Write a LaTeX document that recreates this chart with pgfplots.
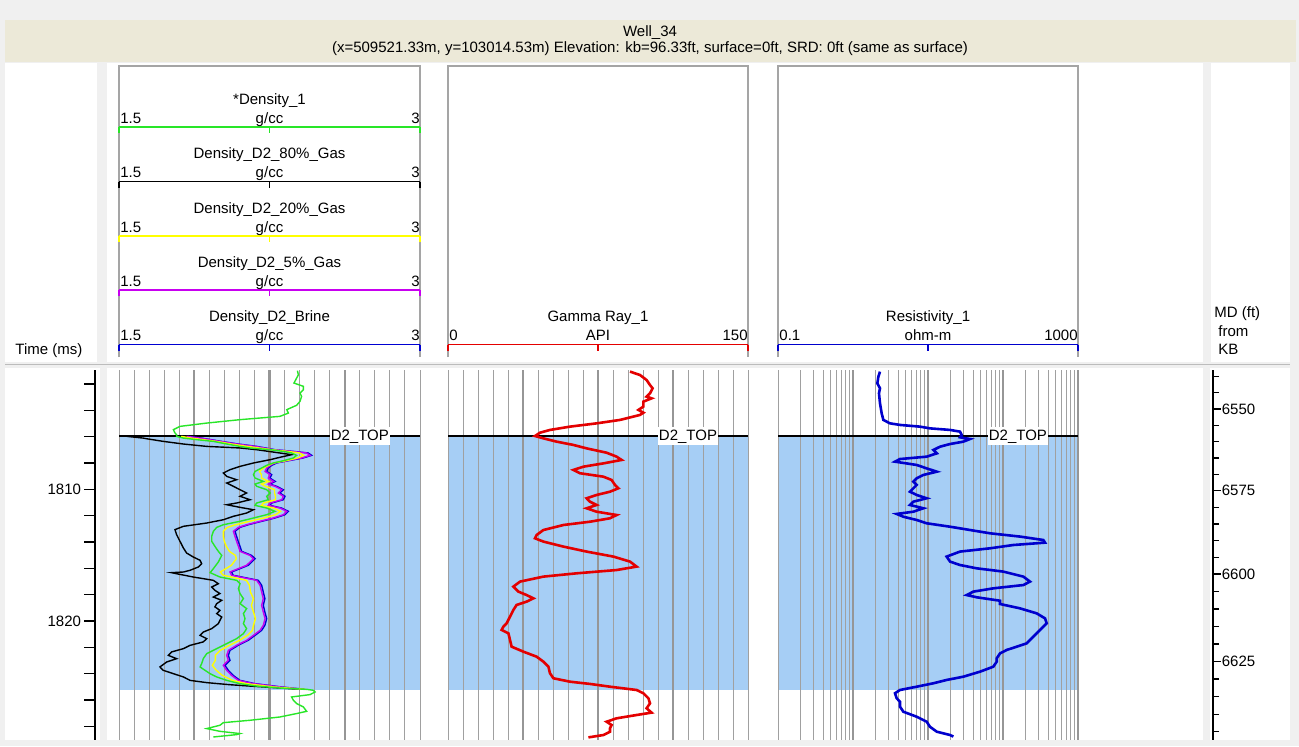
\documentclass[border=0pt]{standalone}
\usepackage{fontspec}
\setmainfont{Liberation Sans}
\usepackage{pgfplots}
\pgfplotsset{compat=1.18}

\definecolor{bgray}{RGB}{240,240,240}
\definecolor{beige}{RGB}{236,233,216}
\definecolor{zone}{RGB}{166,206,245}
\definecolor{gthin}{RGB}{160,160,160}
\definecolor{gthick}{RGB}{150,150,150}
\definecolor{boxc}{RGB}{165,165,165}
\definecolor{dgreen}{RGB}{40,230,40}
\definecolor{dyellow}{RGB}{255,255,0}
\definecolor{dmag}{RGB}{200,0,240}
\definecolor{dblue}{RGB}{0,0,210}
\definecolor{grred}{RGB}{228,0,0}
\definecolor{resblue}{RGB}{0,0,205}

\newcommand\fs{\fontsize{7.5pt}{9pt}\selectfont}

\pgfplotsset{
  trk/.style={scale only axis, height=185pt, anchor=north west, y dir=reverse,
    ymin=1800.94, ymax=1829.04},
  trkzone/.style={trk, hide axis},
  trkgrid/.style={trk, axis line style={draw=none}, ytick=\empty,
    xticklabels={}, major tick length=0pt, minor tick length=0pt,
    xmajorgrids=true, xminorgrids=true,
    major grid style={color=gthick, line width=1.2pt},
    minor grid style={color=gthin, line width=0.5pt}},
}

\newcommand\scalerow[8]{%
  \draw[#4, line width=0.6pt] (#1,#3) -- (#2,#3);
  \draw[#4, line width=0.6pt] (#1,#3) -- (#1,#3+6) ({(#1+#2)/2},#3) -- ({(#1+#2)/2},#3+6) (#2,#3) -- (#2,#3+6);
  \node at ({(#1+#2)/2},#3-27) {#5};
  \node[anchor=west] at (#1,#3-8) {#6};
  \node at ({(#1+#2)/2},#3-8) {#7};
  \node[anchor=east] at (#2+1,#3-8) {#8};
}

\begin{document}
\begin{tikzpicture}[font=\fs]
\begin{scope}[x=0.5pt, y=-0.5pt, every node/.style={inner sep=0.5pt, text height=5.5pt, text depth=1.5pt}]
  \fill[bgray] (0,0) rectangle (1299,746);
  \fill[beige] (5,20) rectangle (1296,62);
  % white panels
  \fill[white] (5,63) rectangle (97,362);
  \fill[white] (107,63) rectangle (1203,362);
  \fill[white] (1211,63) rectangle (1290,362);
  \fill[white] (5,368) rectangle (100,740);
  \fill[white] (107,368) rectangle (1203,740);
  \fill[white] (1210,368) rectangle (1290,740);
  \draw[gthin!70, line width=0.5pt] (5,364) -- (1290,364);
  % title
  \node at (650,32) {Well\_34};
  \node at (650,48) {(x=509521.33m, y=103014.53m) Elevation: kb=96.33ft, surface=0ft, SRD: 0ft (same as surface)};
  % header boxes
  \draw[boxc, line width=0.6pt] (119,357) -- (119,66) -- (420,66) -- (420,357);
  \draw[boxc, line width=0.6pt] (448,357) -- (448,66) -- (748,66) -- (748,357);
  \draw[boxc, line width=0.6pt] (778,357) -- (778,66) -- (1078,66) -- (1078,357);
  % scale rows
  \scalerow{119}{420}{127}{dgreen}{*Density\_1}{1.5}{g/cc}{3}
  \scalerow{119}{420}{181.5}{black}{Density\_D2\_80\%\_Gas}{1.5}{g/cc}{3}
  \scalerow{119}{420}{236}{dyellow}{Density\_D2\_20\%\_Gas}{1.5}{g/cc}{3}
  \scalerow{119}{420}{290}{dmag}{Density\_D2\_5\%\_Gas}{1.5}{g/cc}{3}
  \scalerow{119}{420}{344.5}{dblue}{Density\_D2\_Brine}{1.5}{g/cc}{3}
  \scalerow{448}{748}{344.5}{grred}{Gamma Ray\_1}{0}{API}{150}
  \scalerow{778}{1078}{344.5}{resblue}{Resistivity\_1}{0.1}{ohm-m}{1000}
  % column captions
  \node[anchor=west] at (14,350) {Time (ms)};
  \node[anchor=west] at (1213,313) {MD (ft)};
  \node[anchor=west] at (1217,332) {from};
  \node[anchor=west] at (1217,350) {KB};
\end{scope}

% ---------- time axis ----------
\begin{axis}[scale only axis, width=0.5pt, height=185pt, at={(47.5pt,-185pt)}, anchor=north west,
  y dir=reverse, ymin=1800.94, ymax=1829.04, xmin=0, xmax=1, hide x axis, axis y line*=left,
  y axis line style={black, line width=0.7pt},
  ytick={1810,1820}, yticklabels={1810,1820},
  minor ytick={1802,1804,1806,1808,1812,1814,1816,1818,1822,1824,1826,1828},
  tick align=outside, major tick length=5.3pt, minor tick length=5.3pt,
  tick style={black, line width=0.7pt},
  yticklabel style={font=\fs, inner sep=1.5pt}]
  \addplot[draw=none] coordinates {(0,1810)};
\end{axis}

% ---------- MD axis ----------
\begin{axis}[scale only axis, width=0.5pt, height=185pt, at={(606.5pt,-185pt)}, anchor=north east,
  y dir=reverse, ymin=1800.94, ymax=1829.04, xmin=0, xmax=1, hide x axis, axis y line*=right,
  y axis line style={black, line width=0.7pt},
  ytick={1803.90,1810.11,1816.43,1823.09}, yticklabels={6550,6575,6600,6625},
  minor ytick={1801.42,1802.67,1805.14,1806.39,1807.62,1808.87,1811.37,1812.63,1813.90,1815.16,1817.76,1819.10,1820.43,1821.76,1824.42,1825.75,1827.08,1828.41},
  tick align=outside, major tick length=3.9pt, minor tick length=3pt,
  tick style={black, line width=0.7pt},
  yticklabel style={font=\fs, inner sep=0.3pt, anchor=west}]
  \addplot[draw=none] coordinates {(0,1810)};
\end{axis}

% ---------- Track 1: density ----------
\begin{axis}[trkzone, width=150.5pt, at={(59.5pt,-185pt)}, xmin=1.5, xmax=3]
  \addplot[draw=none, fill=zone] coordinates {(1.5,1805.98) (3,1805.98) (3,1825.26) (1.5,1825.26)} -- cycle;
\end{axis}
\begin{axis}[trkgrid, width=150.5pt, at={(59.5pt,-185pt)}, xmin=1.5, xmax=3,
  xtick={1.875,2.25,2.625},
  minor xtick={1.5,1.575,1.65,1.725,1.8,1.95,2.025,2.1,2.175,2.325,2.4,2.475,2.55,2.7,2.775,2.85,2.925,3}]
  \addplot[black, line width=1pt] coordinates {(1.5,1805.98) (3,1805.98)};
  % Density_D2_80%_Gas
  \addplot[black, line width=0.7pt] coordinates {
  (1.540,1805.98)(1.621,1806.11)(1.638,1806.16)(1.721,1806.36)(1.821,1806.56)(1.937,1806.74)(2.103,1806.86)
  (2.186,1806.99)(2.269,1807.17)(2.360,1807.37)(2.302,1807.57)(2.253,1807.75)(2.170,1808.00)(2.103,1808.26)
  (2.053,1808.51)(2.020,1808.76)(2.037,1809.02)(2.086,1809.27)(2.037,1809.52)(2.070,1809.77)(2.103,1810.03)
  (2.136,1810.28)(2.103,1810.53)(2.153,1810.79)(2.086,1811.04)(2.037,1811.17)(2.103,1811.37)(2.170,1811.55)
  (2.136,1811.80)(2.070,1812.05)(2.020,1812.31)(1.937,1812.56)(1.821,1812.81)(1.779,1813.06)(1.787,1813.44)
  (1.804,1813.95)(1.821,1814.46)(1.837,1814.84)(1.870,1815.14)(1.904,1815.39)(1.912,1815.65)(1.895,1815.90)
  (1.854,1816.15)(1.821,1816.28)(1.762,1816.33)(1.787,1816.41)(1.870,1816.66)(1.970,1816.91)(1.995,1817.17)
  (1.962,1817.42)(1.978,1817.67)(2.003,1817.92)(1.970,1818.18)(2.012,1818.43)(1.987,1818.68)(1.978,1818.93)
  (2.003,1819.19)(1.987,1819.44)(2.012,1819.70)(2.003,1819.95)(1.995,1820.20)(1.962,1820.58)(1.920,1820.84)
  (1.904,1821.09)(1.937,1821.34)(1.920,1821.59)(1.854,1821.85)(1.821,1822.10)(1.762,1822.35)(1.746,1822.61)
  (1.787,1822.86)(1.738,1823.11)(1.704,1823.49)(1.721,1823.75)(1.771,1824.00)(1.821,1824.25)(1.854,1824.51)
  (1.937,1824.68)(2.053,1824.84)(2.170,1824.96)(2.302,1825.09)(2.402,1825.19)};
  % Density_D2_Brine
  \addplot[dblue, line width=0.7pt] coordinates {
  (1.845,1805.98)(1.912,1806.11)(2.011,1806.36)(2.094,1806.56)(2.186,1806.74)(2.277,1806.99)(2.368,1807.12)
  (2.443,1807.24)(2.460,1807.42)(2.418,1807.62)(2.344,1807.83)(2.285,1808.00)(2.261,1808.18)(2.244,1808.38)
  (2.236,1808.64)(2.261,1808.89)(2.252,1809.14)(2.278,1809.40)(2.252,1809.60)(2.285,1809.77)(2.319,1810.03)
  (2.302,1810.28)(2.327,1810.53)(2.319,1810.79)(2.261,1811.04)(2.252,1811.22)(2.310,1811.42)(2.344,1811.67)
  (2.327,1811.93)(2.277,1812.18)(2.211,1812.43)(2.144,1812.69)(2.103,1812.89)(2.078,1813.19)(2.086,1813.57)
  (2.094,1813.95)(2.103,1814.33)(2.111,1814.71)(2.161,1815.02)(2.178,1815.27)(2.144,1815.77)(2.061,1816.28)
  (2.069,1816.53)(2.194,1816.91)(2.211,1817.29)(2.219,1817.80)(2.227,1818.30)(2.219,1818.81)(2.227,1819.32)
  (2.236,1819.82)(2.227,1820.33)(2.211,1820.71)(2.178,1821.09)(2.144,1821.47)(2.094,1821.85)(2.053,1822.23)
  (2.045,1822.61)(2.053,1822.99)(2.028,1823.37)(2.045,1823.75)(2.069,1824.13)(2.103,1824.51)(2.178,1824.76)
  (2.310,1825.01)(2.427,1825.19)};
  % Density_D2_5%_Gas
  \addplot[dmag, line width=0.7pt] coordinates {
  (1.837,1805.98)(1.904,1806.11)(2.003,1806.36)(2.086,1806.56)(2.178,1806.74)(2.269,1806.99)(2.360,1807.12)
  (2.435,1807.24)(2.452,1807.42)(2.410,1807.62)(2.336,1807.83)(2.277,1808.00)(2.253,1808.18)(2.236,1808.38)
  (2.228,1808.64)(2.253,1808.89)(2.244,1809.14)(2.270,1809.40)(2.244,1809.60)(2.277,1809.77)(2.311,1810.03)
  (2.294,1810.28)(2.319,1810.53)(2.311,1810.79)(2.253,1811.04)(2.244,1811.22)(2.302,1811.42)(2.336,1811.67)
  (2.319,1811.93)(2.269,1812.18)(2.203,1812.43)(2.136,1812.69)(2.095,1812.89)(2.070,1813.19)(2.078,1813.57)
  (2.086,1813.95)(2.095,1814.33)(2.103,1814.71)(2.153,1815.02)(2.170,1815.27)(2.136,1815.77)(2.053,1816.28)
  (2.061,1816.53)(2.186,1816.91)(2.203,1817.29)(2.211,1817.80)(2.219,1818.30)(2.211,1818.81)(2.219,1819.32)
  (2.228,1819.82)(2.219,1820.33)(2.203,1820.71)(2.170,1821.09)(2.136,1821.47)(2.086,1821.85)(2.045,1822.23)
  (2.037,1822.61)(2.045,1822.99)(2.020,1823.37)(2.037,1823.75)(2.061,1824.13)(2.095,1824.51)(2.170,1824.76)
  (2.302,1825.01)(2.419,1825.19)};
  % Density_D2_20%_Gas
  \addplot[dyellow, line width=0.7pt] coordinates {
  (1.81,1805.98)(1.86,1806.11)(1.985,1806.36)(2.06,1806.56)(2.14,1806.74)(2.26,1806.99)(2.34,1807.12)
  (2.40,1807.24)(2.42,1807.42)(2.39,1807.62)(2.33,1807.83)(2.27,1808.00)(2.245,1808.18)(2.22,1808.38)
  (2.20,1808.64)(2.21,1808.89)(2.21,1809.14)(2.245,1809.40)(2.21,1809.60)(2.23,1809.77)(2.275,1810.03)
  (2.275,1810.28)(2.28,1810.53)(2.28,1810.79)(2.22,1811.04)(2.21,1811.22)(2.27,1811.42)(2.305,1811.67)
  (2.28,1811.93)(2.22,1812.18)(2.15,1812.43)(2.08,1812.69)(2.04,1812.89)(2.02,1813.19)(2.02,1813.57)
  (2.025,1813.95)(2.035,1814.33)(2.05,1814.71)(2.08,1815.02)(2.085,1815.27)(2.06,1815.77)(2.005,1816.28)
  (2.02,1816.53)(2.135,1816.91)(2.15,1817.29)(2.155,1817.80)(2.17,1818.30)(2.16,1818.81)(2.17,1819.32)
  (2.18,1819.82)(2.17,1820.33)(2.165,1820.71)(2.14,1821.09)(2.10,1821.47)(2.05,1821.85)(2.005,1822.23)
  (1.98,1822.61)(1.98,1822.99)(1.965,1823.37)(1.985,1823.75)(2.015,1824.13)(2.065,1824.51)(2.135,1824.76)
  (2.27,1825.01)(2.43,1825.19)};
  % *Density_1
  \addplot[dgreen, line width=0.7pt] coordinates {
  (2.389,1800.99)(2.394,1801.30)(2.372,1801.93)(2.419,1802.18)(2.419,1802.44)(2.402,1802.69)(2.410,1802.94)
  (2.402,1803.32)(2.385,1803.62)(2.336,1803.95)(2.344,1804.21)(2.302,1804.46)(2.103,1804.71)(1.937,1804.97)
  (1.804,1805.22)(1.771,1805.47)(1.779,1805.72)(1.787,1805.85)(1.787,1805.98)(1.821,1806.11)(1.887,1806.23)
  (1.970,1806.36)(2.037,1806.56)(2.103,1806.74)(2.153,1806.86)(2.253,1806.99)(2.319,1807.12)(2.360,1807.24)
  (2.385,1807.42)(2.369,1807.62)(2.319,1807.83)(2.269,1808.00)(2.236,1808.18)(2.211,1808.38)(2.178,1808.64)
  (2.170,1808.89)(2.178,1809.14)(2.219,1809.40)(2.178,1809.60)(2.186,1809.77)(2.236,1810.03)(2.253,1810.28)
  (2.236,1810.53)(2.244,1810.79)(2.186,1811.04)(2.178,1811.22)(2.236,1811.42)(2.277,1811.67)(2.236,1811.93)
  (2.170,1812.18)(2.103,1812.43)(2.020,1812.69)(1.987,1812.89)(1.970,1813.19)(1.962,1813.57)(1.962,1813.95)
  (1.978,1814.33)(1.995,1814.71)(2.012,1815.02)(1.995,1815.52)(1.970,1816.03)(1.954,1816.33)(2.003,1816.66)
  (2.086,1816.91)(2.103,1817.17)(2.095,1817.54)(2.103,1817.92)(2.120,1818.30)(2.103,1818.68)(2.136,1819.06)
  (2.120,1819.44)(2.128,1819.82)(2.120,1820.20)(2.136,1820.58)(2.120,1820.96)(2.086,1821.34)(2.037,1821.72)
  (1.987,1822.10)(1.937,1822.48)(1.920,1822.86)(1.912,1823.24)(1.904,1823.49)(1.929,1823.75)(1.954,1824.00)
  (1.987,1824.25)(2.037,1824.51)(2.103,1824.76)(2.186,1824.94)(2.302,1825.09)(2.435,1825.19)(2.468,1825.26)
  (2.477,1825.39)(2.452,1825.59)(2.360,1825.77)(2.369,1826.02)(2.385,1826.27)(2.419,1826.53)(2.435,1826.86)
  (2.385,1827.03)(2.302,1827.29)(2.153,1827.54)(2.020,1827.72)(2.003,1827.92)(1.937,1828.17)(2.003,1828.38)
  (2.103,1828.55)(2.086,1828.63)(1.970,1828.81)};
  \node[fill=white, inner xsep=0.4pt, inner ysep=1pt, text height=5.5pt, text depth=1.5pt] at (axis cs:2.7,1805.98) {D2\_TOP};
\end{axis}

% ---------- Track 2: gamma ray ----------
\begin{axis}[trkzone, width=150pt, at={(224pt,-185pt)}, xmin=0, xmax=150]
  \addplot[draw=none, fill=zone] coordinates {(0,1805.98) (150,1805.98) (150,1825.26) (0,1825.26)} -- cycle;
\end{axis}
\begin{axis}[trkgrid, width=150pt, at={(224pt,-185pt)}, xmin=0, xmax=150,
  xtick={37.5,75,112.5},
  minor xtick={0,7.5,15,22.5,30,45,52.5,60,67.5,82.5,90,97.5,105,120,127.5,135,142.5,150}]
  \addplot[black, line width=1pt] coordinates {(0,1805.98) (150,1805.98)};
  \addplot[grred, line width=1.3pt] coordinates {
  (91,1801.06)(96,1801.32)(99.3,1801.70)(101,1802.08)(102.3,1802.33)(101,1802.71)(99.3,1802.96)(101.8,1803.09)
  (97.7,1803.34)(97.7,1803.72)(95.2,1803.97)(97.7,1804.18)(96,1804.35)(86,1804.73)(74.3,1804.99)(61,1805.24)
  (51,1805.49)(46,1805.70)(43.5,1805.95)(47.7,1806.13)(54.3,1806.38)(62.7,1806.63)(69.3,1806.89)(79.3,1807.22)
  (84.3,1807.52)(86.8,1807.77)(77.7,1808.03)(67.7,1808.28)(62.7,1808.53)(66,1808.78)(77.7,1809.04)(81.8,1809.29)
  (83.5,1809.67)(85.2,1809.92)(81,1810.18)(74.3,1810.43)(69.3,1810.68)(71,1810.94)(74.3,1811.19)(69.3,1811.44)
  (74.3,1811.70)(84.3,1811.95)(81,1812.20)(71,1812.46)(57.7,1812.71)(47.7,1813.09)(44.3,1813.47)(43.5,1813.72)
  (47.7,1813.97)(57.7,1814.35)(69.3,1814.73)(82.7,1815.11)(91,1815.49)(94.3,1815.87)(84.3,1816.13)(64.3,1816.38)
  (47.7,1816.63)(36,1817.01)(32.7,1817.39)(35.2,1817.77)(39.3,1818.03)(42.7,1818.28)(39.3,1818.53)(34.3,1818.78)
  (32.7,1819.16)(31,1819.67)(29.3,1820.18)(27.7,1820.43)(26.8,1820.68)(30.2,1820.94)(31,1821.44)(31.8,1821.95)
  (37.7,1822.33)(44.3,1822.71)(47.7,1823.09)(50.2,1823.47)(51,1823.97)(52.7,1824.35)(61,1824.61)(71,1824.78)
  (81,1824.99)(94.3,1825.24)(97.7,1825.49)(100.2,1825.87)(101,1826.25)(99.3,1826.63)(101.8,1826.96)(94.3,1827.14)
  (84.3,1827.39)(79.3,1827.65)(81.8,1827.90)(81,1828.15)(81,1828.41)(77.7,1828.66)(70.2,1828.84)};
  \node[fill=white, inner xsep=0.4pt, inner ysep=1pt, text height=5.5pt, text depth=1.5pt] at (axis cs:120,1805.98) {D2\_TOP};
\end{axis}

% ---------- Track 3: resistivity ----------
\begin{axis}[trkzone, xmode=log, width=150pt, at={(389pt,-185pt)}, xmin=0.1, xmax=1000]
  \addplot[draw=none, fill=zone] coordinates {(0.1,1805.98) (1000,1805.98) (1000,1825.26) (0.1,1825.26)} -- cycle;
\end{axis}
\begin{axis}[trkgrid, xmode=log, width=150pt, at={(389pt,-185pt)}, xmin=0.1, xmax=1000,
  xtick={1,10,100,1000},
  minor xtick={0.1,0.2,0.3,0.4,0.5,0.6,0.7,0.8,0.9,2,3,4,5,6,7,8,9,20,30,40,50,60,70,80,90,200,300,400,500,600,700,800,900}]
  \addplot[black, line width=1pt] coordinates {(0.1,1805.98) (1000,1805.98)};
  \addplot[resblue, line width=1.3pt] coordinates {
  (2.29,1801.06)(2.18,1801.44)(2.11,1801.95)(2.29,1802.33)(2.22,1802.71)(2.29,1803.47)(2.41,1804.23)(2.54,1804.73)
  (3.11,1804.99)(4.23,1805.11)(7.82,1805.24)(10.6,1805.37)(19.7,1805.49)(26.7,1805.62)(28.1,1805.87)(26.7,1806.05)
  (36.3,1806.18)(29.6,1806.38)(19.7,1806.56)(14.5,1806.76)(11.8,1807.01)(13.1,1807.27)(9.6,1807.52)(4.23,1807.70)
  (3.63,1807.90)(7.06,1808.15)(9.6,1808.41)(13.1,1808.66)(8.67,1808.91)(7.06,1809.16)(6.37,1809.42)(7.06,1809.67)
  (6.37,1809.92)(5.75,1810.18)(7.06,1810.43)(9.6,1810.68)(6.37,1810.94)(5.75,1811.19)(8.67,1811.44)(6.37,1811.70)
  (3.82,1811.87)(4.69,1812.08)(7.06,1812.33)(9.6,1812.58)(19.7,1812.84)(36.3,1813.09)(67.1,1813.34)(168.6,1813.59)
  (345,1813.85)(363,1814.05)(137,1814.23)(67.1,1814.48)(26.7,1814.73)(17.7,1815.11)(19.7,1815.49)(26.7,1815.75)
  (44.6,1816.00)(101,1816.25)(186.7,1816.63)(229,1817.01)(186.7,1817.27)(74.3,1817.52)(40.2,1817.77)(32.8,1818.03)
  (44.6,1818.20)(91.2,1818.46)(91.2,1818.71)(168.6,1819.04)(281,1819.42)(363,1819.80)(382,1820.18)(345,1820.43)
  (296,1820.81)(254,1821.19)(207,1821.70)(112,1822.20)(91.2,1822.46)(82.4,1822.84)(82.4,1823.09)(74.3,1823.47)
  (49.3,1823.85)(29.6,1824.23)(17.7,1824.48)(11.8,1824.73)(7.06,1824.99)(4.23,1825.24)(3.63,1825.49)(3.82,1825.87)
  (4.23,1826.13)(4.23,1826.51)(4.69,1826.89)(7.06,1827.27)(9.6,1827.65)(10.6,1828.03)(13.1,1828.41)(19.7,1828.66)
  (21.8,1828.78)};
  \node[fill=white, inner xsep=0.4pt, inner ysep=1pt, text height=5.5pt, text depth=1.5pt] at (axis cs:158,1805.98) {D2\_TOP};
\end{axis}

\pgfresetboundingbox
\path[use as bounding box] (0,0) rectangle (649.5pt,-373pt);
\end{tikzpicture}
\end{document}
